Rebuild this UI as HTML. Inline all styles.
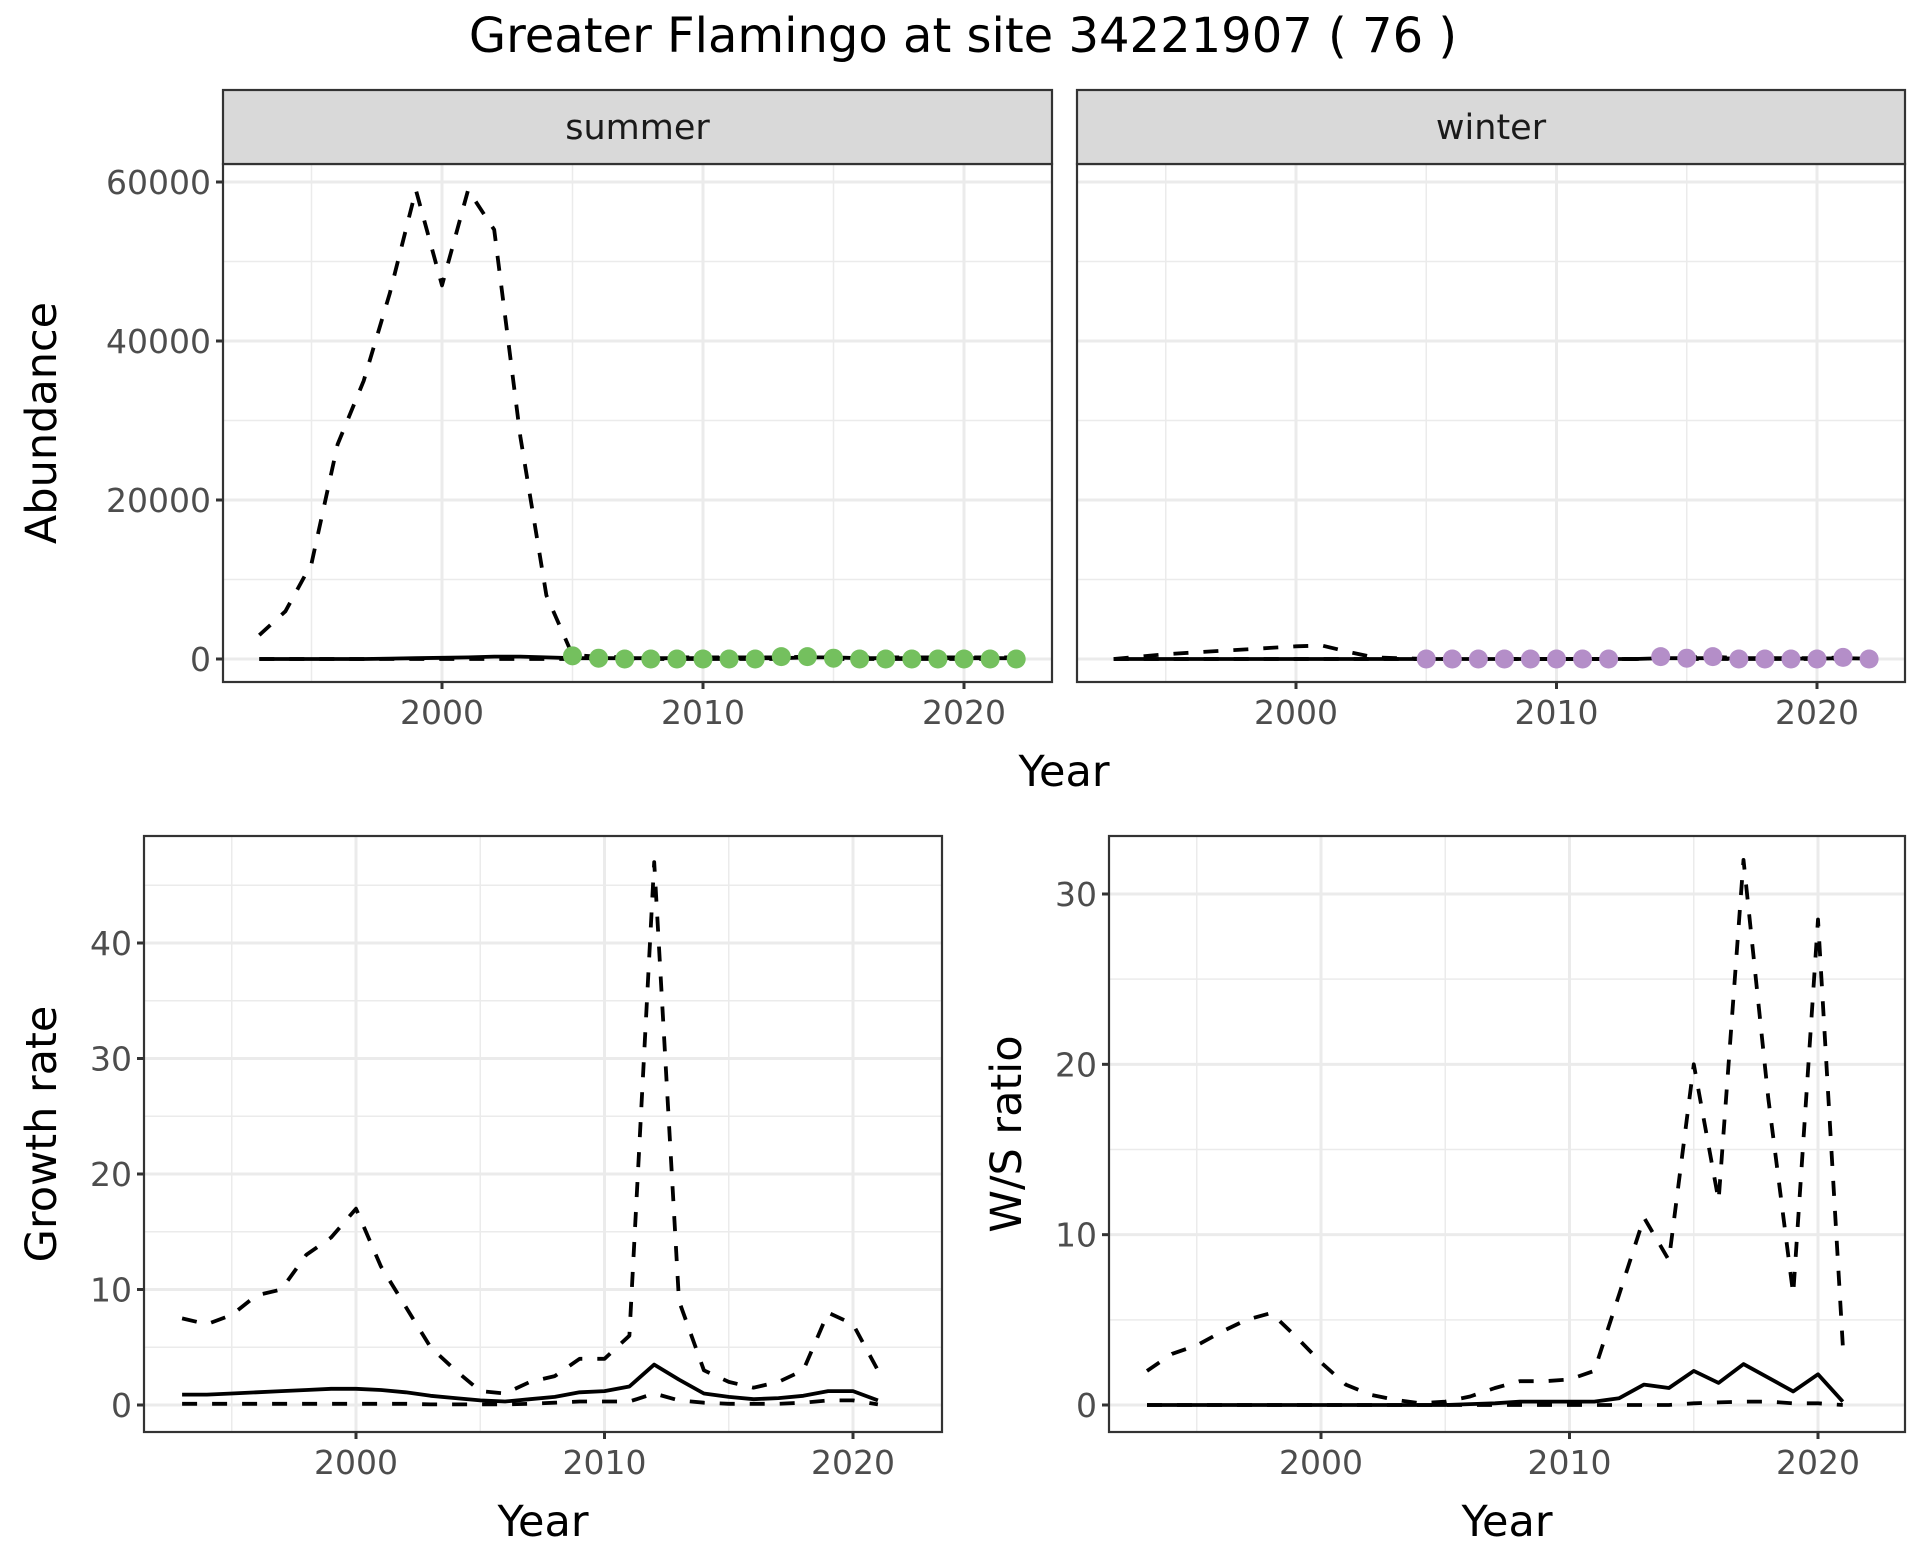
<!DOCTYPE html>
<html><head><meta charset="utf-8"><style>
html,body{margin:0;padding:0;background:#fff;}
svg{display:block;font-family:"DejaVu Sans","Liberation Sans",sans-serif;}
</style></head><body>
<svg id="c" width="1920" height="1560" viewBox="0 0 1920 1560">
<text x="963" y="52" font-size="48" text-anchor="middle" fill="#000">Greater Flamingo at site 34221907 ( 76 )</text>
</svg>
<script>
// ---- data ----
const yearsAll = [1993,1994,1995,1996,1997,1998,1999,2000,2001,2002,2003,2004,2005,2006,2007,2008,2009,2010,2011,2012,2013,2014,2015,2016,2017,2018,2019,2020,2021,2022];
const summerUpper = [3000,6000,12000,27000,35000,46000,59000,47000,59000,54000,28000,8000,500,300,200,200,200,200,200,200,200,300,300,200,200,200,200,200,200,200];
const summerMean  = [0,0,0,0,0,50,100,150,200,300,300,200,100,100,100,100,100,100,100,100,100,200,200,100,100,100,100,100,100,100];
const summerLower = [0,0,0,0,0,0,0,0,0,0,0,0,0,0,0,0,0,0,0,0,0,0,0,0,0,0,0,0,0,0];
const summerPtYears = [2005,2006,2007,2008,2009,2010,2011,2012,2013,2014,2015,2016,2017,2018,2019,2020,2021,2022];
const summerPtVals  = [400,100,0,0,0,0,0,0,300,300,100,0,0,0,0,0,0,0];
const winterUpper = [0,300,600,800,1000,1200,1400,1600,1700,900,200,100,0,0,0,0,0,0,0,0,0,200,200,300,100,100,100,100,200,100];
const winterMean  = [0,0,0,0,0,0,0,0,0,0,0,0,0,0,0,0,0,0,0,0,0,100,100,100,50,50,50,50,100,50];
const winterLower = [0,0,0,0,0,0,0,0,0,0,0,0,0,0,0,0,0,0,0,0,0,0,0,0,0,0,0,0,0,0];
const winterPtYears = [2005,2006,2007,2008,2009,2010,2011,2012,2014,2015,2016,2017,2018,2019,2020,2021,2022];
const winterPtVals  = [0,0,0,0,0,0,0,0,300,100,300,0,0,0,0,200,0];
const yearsGR = [1993,1994,1995,1996,1997,1998,1999,2000,2001,2002,2003,2004,2005,2006,2007,2008,2009,2010,2011,2012,2013,2014,2015,2016,2017,2018,2019,2020,2021];
const grUpper = [7.5,7,7.8,9.5,10,13,14.5,17,12,8.5,5,3,1.2,1,2,2.5,4,4,6,47,9,3,2,1.5,2,3,8,7,3];
const grMean  = [0.9,0.9,1.0,1.1,1.2,1.3,1.4,1.4,1.3,1.1,0.8,0.6,0.4,0.3,0.5,0.7,1.1,1.2,1.6,3.5,2.2,1.0,0.7,0.5,0.6,0.8,1.2,1.2,0.4];
const grLower = [0.1,0.1,0.1,0.1,0.1,0.1,0.1,0.1,0.1,0.1,0.05,0.05,0.05,0.05,0.1,0.2,0.3,0.3,0.3,1.0,0.4,0.2,0.1,0.1,0.1,0.2,0.4,0.4,0.05];
const wsUpper = [2,3,3.5,4.3,5,5.4,4,2.5,1.2,0.6,0.3,0.1,0.2,0.5,1,1.4,1.4,1.5,2,6.5,11,8.5,20,12,32,18,6.5,28.5,3.5];
const wsMean  = [0,0,0,0,0,0,0,0,0,0,0,0,0,0.05,0.1,0.2,0.2,0.2,0.2,0.4,1.2,1.0,2.0,1.3,2.4,1.6,0.8,1.8,0.2];
const wsLower = [0,0,0,0,0,0,0,0,0,0,0,0,0,0,0,0,0,0,0,0,0,0,0.1,0.15,0.2,0.2,0.1,0.1,0];
const abTicks = [0,20000,40000,60000];
const grTicks = [0,10,20,30,40];
const wsTicks = [0,10,20,30];
const yearTicks = [2000,2010,2020];

const svg = document.getElementById('c');
const NS = 'http://www.w3.org/2000/svg';
function mk(tag, attrs, parent){const e=document.createElementNS(NS,tag);for(const k in attrs)e.setAttribute(k,attrs[k]);(parent||svg).appendChild(e);return e;}
function linMap(d0,d1,r0,r1){return v=>r0+(v-d0)/(d1-d0)*(r1-r0);}

function panel(name,box,xs,ys,yticks,yminor,xminor,showY){
  const g=mk('g',{});
  
  
  mk('rect',{x:box.x0,y:box.y0,width:box.x1-box.x0,height:box.y1-box.y0,fill:'#fff'},g);
  yminor.forEach(v=>mk('line',{x1:box.x0,x2:box.x1,y1:ys(v),y2:ys(v),stroke:'#ebebeb','stroke-width':1.5},g));
  xminor.forEach(v=>mk('line',{x1:xs(v),x2:xs(v),y1:box.y0,y2:box.y1,stroke:'#ebebeb','stroke-width':1.5},g));
  yticks.forEach(v=>mk('line',{x1:box.x0,x2:box.x1,y1:ys(v),y2:ys(v),stroke:'#ebebeb','stroke-width':3},g));
  yearTicks.forEach(v=>mk('line',{x1:xs(v),x2:xs(v),y1:box.y0,y2:box.y1,stroke:'#ebebeb','stroke-width':3},g));
  yearTicks.forEach(v=>{
    mk('line',{x1:xs(v),x2:xs(v),y1:box.y1,y2:box.y1+7,stroke:'#333','stroke-width':3},g);
    const t=mk('text',{x:xs(v),y:box.y1+42,'font-size':33,'text-anchor':'middle',fill:'#4d4d4d'},g);t.textContent=v;
    
  });
  if(showY) yticks.forEach(v=>{
    mk('line',{x1:box.x0-7,x2:box.x0,y1:ys(v),y2:ys(v),stroke:'#333','stroke-width':3},g);
    const t=mk('text',{x:box.x0-12,y:ys(v)+12,'font-size':33,'text-anchor':'end',fill:'#4d4d4d'},g);t.textContent=v;
    
  });
  return g;
}
function line(g,xs,ys,xv,yv,dashed,name){
  const d=xv.map((x,i)=>(i?'L':'M')+xs(x).toFixed(1)+','+ys(yv[i]).toFixed(1)).join('');
  const p=mk('path',{d:d,fill:'none',stroke:'#000','stroke-width':3.8,'stroke-linejoin':'round','stroke-dasharray':dashed?'15 15':'none'},g);
  
  
}
function border(g,box){mk('rect',{x:box.x0,y:box.y0,width:box.x1-box.x0,height:box.y1-box.y0,fill:'none',stroke:'#333','stroke-width':2.2},g);}
function points(g,xs,ys,xv,yv,col,name){
  xv.forEach((x,i)=>{const c=mk('circle',{cx:xs(x),cy:ys(yv[i]),r:9.5,fill:col},g);
    });
}
function strip(box,label){
  const r=mk('rect',{x:box.x0,y:90,width:box.x1-box.x0,height:74,fill:'#d9d9d9',stroke:'#333','stroke-width':2.2});
  
  const t=mk('text',{x:(box.x0+box.x1)/2,y:139,'font-size':35,'text-anchor':'middle',fill:'#1a1a1a'});t.textContent=label;
  
}

// top panels
const bS={x0:223,x1:1052,y0:164,y1:682}, bW={x0:1077,x1:1905,y0:164,y1:682};
const ysA=linMap(0,60000,659,182);
const xsS=linMap(2000,2020,442,964), xsW=linMap(2000,2020,1296,1817);
let g=panel('summer',bS,xsS,ysA,abTicks,[10000,30000,50000],[1995,2005,2015],true);
line(g,xsS,ysA,yearsAll,summerUpper,true,'summer-upper-ci');
line(g,xsS,ysA,yearsAll,summerLower,true,'summer-lower-ci');
line(g,xsS,ysA,yearsAll,summerMean,false,'summer-mean');
points(g,xsS,ysA,summerPtYears,summerPtVals,'#74c05e','summer-point');
border(g,bS); strip(bS,'summer');
g=panel('winter',bW,xsW,ysA,abTicks,[10000,30000,50000],[1995,2005,2015],false);
line(g,xsW,ysA,yearsAll,winterUpper,true,'winter-upper-ci');
line(g,xsW,ysA,yearsAll,winterLower,true,'winter-lower-ci');
line(g,xsW,ysA,yearsAll,winterMean,false,'winter-mean');
points(g,xsW,ysA,winterPtYears,winterPtVals,'#b48ec8','winter-point');
border(g,bW); strip(bW,'winter');

// bottom panels
const bG={x0:144,x1:942,y0:836,y1:1432}, bR={x0:1109,x1:1905,y0:836,y1:1432};
const ysG=linMap(0,40,1405,943), xsG=linMap(2000,2020,356,853);
const ysR=linMap(0,30,1405,894), xsR=linMap(2000,2020,1321,1818);
g=panel('growth',bG,xsG,ysG,grTicks,[5,15,25,35,45],[1995,2005,2015],true);
line(g,xsG,ysG,yearsGR,grUpper,true,'growth-upper-ci');
line(g,xsG,ysG,yearsGR,grLower,true,'growth-lower-ci');
line(g,xsG,ysG,yearsGR,grMean,false,'growth-mean');
border(g,bG);
g=panel('ratio',bR,xsR,ysR,wsTicks,[5,15,25],[1995,2005,2015],true);
line(g,xsR,ysR,yearsGR,wsUpper,true,'ratio-upper-ci');
line(g,xsR,ysR,yearsGR,wsLower,true,'ratio-lower-ci');
line(g,xsR,ysR,yearsGR,wsMean,false,'ratio-mean');
border(g,bR);

// axis titles
function title(txt,x,y,rot,name){const t=mk('text',{x:x,y:y,'font-size':43,'text-anchor':'middle',fill:'#000',transform:rot?`rotate(-90 ${x} ${y})`:''});t.textContent=txt;
  }
title('Year',1064,786,false,'top-x-axis-title');
title('Abundance',56,423,true,'abundance-axis-title');
title('Year',543,1536,false,'growth-x-axis-title');
title('Growth rate',56,1134,true,'growth-axis-title');
title('Year',1507,1536,false,'ratio-x-axis-title');
title('W/S ratio',1021,1134,true,'ratio-axis-title');
</script>
</body></html>
